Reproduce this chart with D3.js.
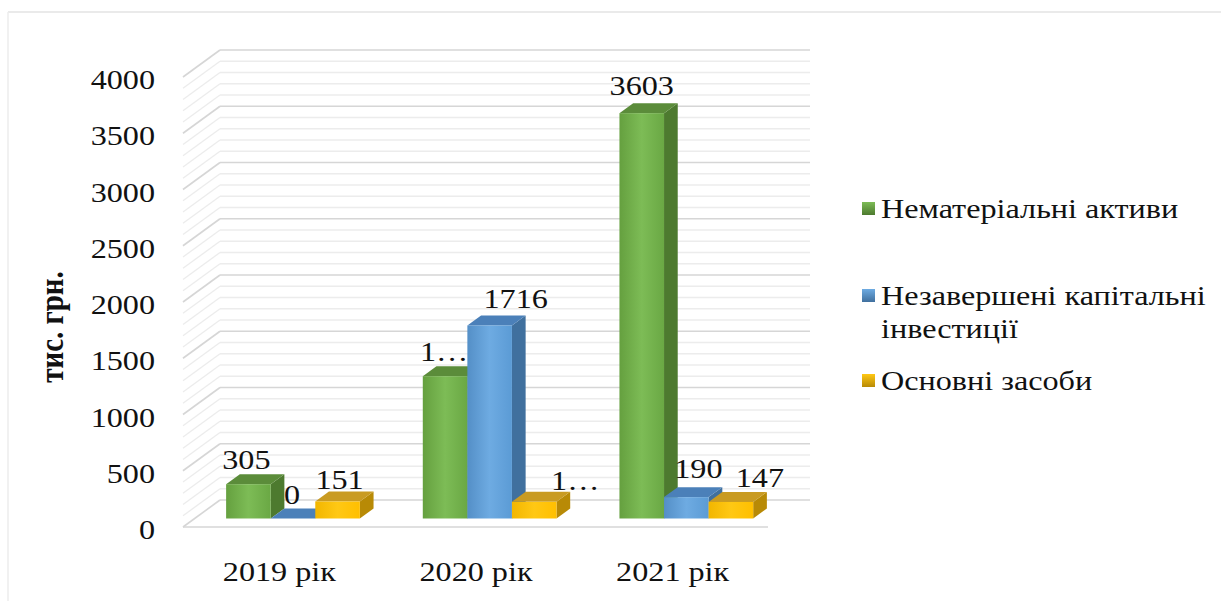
<!DOCTYPE html>
<html lang="uk">
<head>
<meta charset="utf-8">
<script src="https://cdn.jsdelivr.net/npm/d3@7/dist/d3.min.js"></script>
<style>
  html, body { margin: 0; padding: 0; background: #ffffff; }
  svg { display: block; }
  text { font-family: "Liberation Serif", "Times New Roman", serif; fill: #111; }
</style>
</head>
<body>
<svg id="chart" width="1221" height="601"></svg>
<script>
// ---- data ----
const years = ["2019 рік", "2020 рік", "2021 рік"];
const seriesNames = ["Нематеріальні активи", "Незавершені капітальні інвестиції", "Основні засоби"];
const intangibleAssets = [305, 1265, 3603];
const unfinishedInvestments = [0, 1716, 190];
const fixedAssets = [151, 148, 147];
const yTicks = [0, 500, 1000, 1500, 2000, 2500, 3000, 3500, 4000];
// labels that are clipped to "1…" in the chart
const clippedLabels = [[1, 0], [1, 2]]; // [year index, series index]

const seriesValues = [intangibleAssets, unfinishedInvestments, fixedAssets];

// ---- layout ----
const svg = d3.select("#chart");
const floorLeft = 183, floorRight = 773;
const floorY = 527, topY = 77;
const depth = { dx: 37, dy: -27 };         // full depth of the 3D box
const barDepth = [0.315, 0.685];           // bars occupy this slice of the depth
const gapRatio = 0.32;
const textStretch = 1.15;
const fontSize = 28;

const y = d3.scaleLinear().domain([0, 4000]).range([floorY, topY]);
const x0 = d3.scaleBand().domain(years).range([floorLeft, floorRight]).padding(0);
const groupW = x0.step() * (1 - gapRatio);
const x1 = d3.scaleBand().domain(seriesNames).range([-groupW / 2, groupW / 2]).padding(0);

// project a point of the front plane (px, value) back to depth d
const P = (px, v, d) => [px + depth.dx * d, y(v) + depth.dy * d];

const palette = [
  { front: ["#65a03f", "#7dbc56", "#6aa844"], side: "#4d7a2f", top: "#5b8c3a" },
  { front: ["#548fc7", "#6eabe2", "#5b9bd5"], side: "#40709e", top: "#4b80b9" },
  { front: ["#f2b600", "#ffc814", "#ffbf00"], side: "#b88a06", top: "#c99b22" }
];

// gradients for bar fronts and legend keys
const defs = svg.append("defs");
palette.forEach((p, i) => {
  const g = defs.append("linearGradient").attr("id", "front" + i)
    .attr("x1", 0).attr("x2", 1).attr("y1", 0).attr("y2", 0);
  g.append("stop").attr("offset", "0%").attr("stop-color", p.front[0]);
  g.append("stop").attr("offset", "50%").attr("stop-color", p.front[1]);
  g.append("stop").attr("offset", "100%").attr("stop-color", p.front[2]);
  const k = defs.append("linearGradient").attr("id", "key" + i)
    .attr("x1", 0).attr("x2", 0).attr("y1", 0).attr("y2", 1);
  k.append("stop").attr("offset", "0%").attr("stop-color", p.front[1]);
  k.append("stop").attr("offset", "100%").attr("stop-color", p.side);
});

// stretched text helper
function label(parent, str, px, py, opts = {}) {
  const g = parent.append("g")
    .attr("transform", `translate(${px},${py}) scale(${textStretch},1)${opts.rotate ? " rotate(" + opts.rotate + ")" : ""}`);
  const t = g.append("text")
    .attr("text-anchor", opts.anchor || "middle")
    .attr("font-size", opts.size || fontSize)
    .text(str);
  if (opts.bold) t.attr("font-weight", "bold");
  return t;
}

// outer frame (top and left edges)
svg.append("line").attr("x1", 8).attr("x2", 1221).attr("y1", 12).attr("y2", 12)
  .attr("stroke", "#e3e3e3").attr("stroke-width", 1.5);
svg.append("line").attr("x1", 8).attr("x2", 8).attr("y1", 12).attr("y2", 601)
  .attr("stroke", "#ececec").attr("stroke-width", 1.5);

// ---- gridlines: back wall + side wall ----
const grid = svg.append("g");
d3.range(0, 4001, 100).forEach(v => {
  const major = v % 500 === 0;
  const col = major ? "#d6d6d6" : "#ececec";
  const sw = major ? 1.6 : 1.3;
  const [bx0, by] = P(floorLeft, v, 1);
  const [bx1] = P(floorRight, v, 1);
  const [fx] = P(floorLeft, v, 0);
  grid.append("line").attr("x1", bx0).attr("x2", bx1).attr("y1", by).attr("y2", by)
    .attr("stroke", col).attr("stroke-width", sw);
  grid.append("line").attr("x1", fx).attr("y1", y(v)).attr("x2", bx0).attr("y2", by)
    .attr("stroke", col).attr("stroke-width", sw);
});
// front floor edge
grid.append("line").attr("x1", floorLeft).attr("x2", floorRight - 5)
  .attr("y1", floorY).attr("y2", floorY).attr("stroke", "#d6d6d6").attr("stroke-width", 1.6);

// ---- bars ----
const bars = svg.append("g");
const [d0, d1] = barDepth;
const ddx = depth.dx * (d1 - d0), ddy = depth.dy * (d1 - d0);
const w = x1.bandwidth();
const barGeom = [];
years.forEach((yr, i) => {
  seriesNames.forEach((s, j) => {
    const v = seriesValues[j][i];
    const cx = x0(yr) + x0.bandwidth() / 2 + x1(s);
    const [fx, fyTop] = P(cx, v, d0);
    const [, fyBase] = P(cx, 0, d0);
    const p = palette[j];
    const pts = a => a.map(q => q.join(",")).join(" ");
    // right side face
    bars.append("polygon").attr("fill", p.side).attr("points", pts([
      [fx + w, fyTop], [fx + w + ddx, fyTop + ddy], [fx + w + ddx, fyBase + ddy], [fx + w, fyBase]
    ]));
    // top face
    bars.append("polygon").attr("fill", p.top).attr("points", pts([
      [fx, fyTop], [fx + w, fyTop], [fx + w + ddx, fyTop + ddy], [fx + ddx, fyTop + ddy]
    ]));
    // front face
    bars.append("rect").attr("x", fx).attr("y", fyTop).attr("width", w)
      .attr("height", Math.max(0, fyBase - fyTop)).attr("fill", `url(#front${j})`);
    barGeom.push({ i, j, v, cx: fx + w / 2, backTop: fyTop + ddy });
  });
});

// ---- data labels ----
const labelNudge = [
  [[-2, 0], [-1, 0], [2, 2]],
  [[-1, 0], [26, -2], [41, 3]],
  [[0, -3], [12, -4], [29, 0]]
];
const labels = svg.append("g");
barGeom.forEach(b => {
  const clipped = clippedLabels.some(c => c[0] === b.i && c[1] === b.j);
  const txt = clipped ? String(b.v)[0] + "…" : String(b.v);
  const [nx, ny] = labelNudge[b.i][b.j];
  label(labels, txt, b.cx + nx, b.backTop - 5 + ny);
});

// ---- y axis tick labels ----
const axis = svg.append("g");
yTicks.forEach(t => label(axis, t, 155, y(t) + 12, { anchor: "end" }));
// axis title
label(axis, "тис. грн.", 63, 327, { rotate: -90, bold: true, size: 29 });

// ---- category labels ----
years.forEach(yr => label(axis, yr, x0(yr) + x0.bandwidth() / 2 - 2, 581));

// ---- legend ----
const legend = svg.append("g");
const legendRows = [
  { lines: ["Нематеріальні активи"], y: 218 },
  { lines: ["Незавершені капітальні", "інвестиції"], y: 305 },
  { lines: ["Основні засоби"], y: 390 }
];
legendRows.forEach((r, j) => {
  legend.append("rect").attr("x", 862).attr("y", r.y - 16).attr("width", 13).attr("height", 13)
    .attr("fill", `url(#key${j})`);
  r.lines.forEach((ln, k) => label(legend, ln, 881, r.y + k * 33, { anchor: "start" }));
});
</script>
</body>
</html>
